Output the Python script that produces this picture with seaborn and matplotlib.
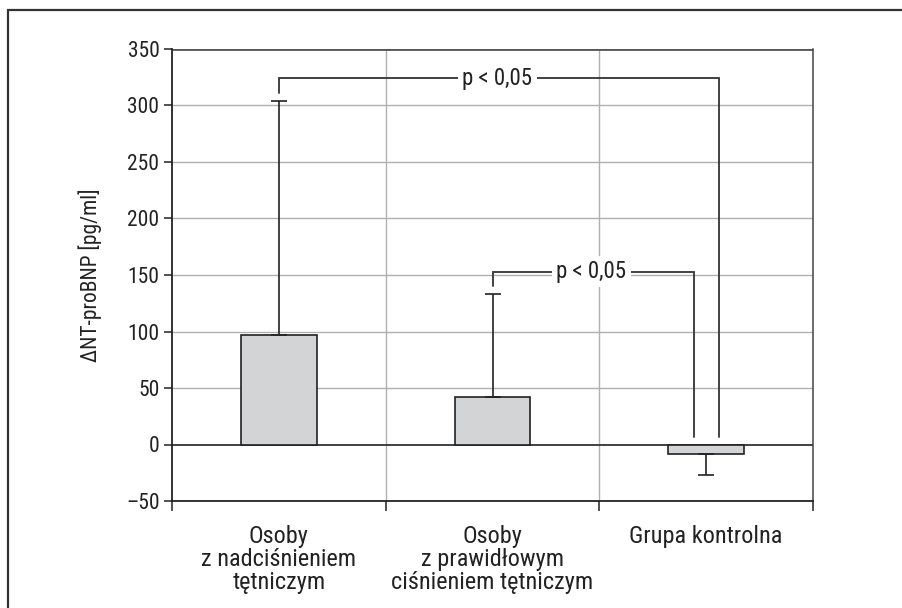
import matplotlib
matplotlib.use("Agg")
import matplotlib.pyplot as plt
import matplotlib.patches as mpatches
import seaborn as sns
import pandas as pd

categories = ["Osoby\nz nadciśnieniem\ntętniczym",
              "Osoby\nz prawidłowym\nciśnieniem tętniczym",
              "Grupa kontrolna"]
means = [97, 42, -8]
err_upper = [207, 91, 0]
err_lower = [0, 0, 19]
yticks = [-50, 0, 50, 100, 150, 200, 250, 300, 350]
p_label = "p < 0,05"

sns.set_theme(style="white")
plt.rcParams['font.family'] = ['Roboto Condensed', 'DejaVu Sans']
plt.rcParams['font.stretch'] = 'condensed'
plt.rcParams['axes.unicode_minus'] = True

fs = 15.5
fx = 17.5

fig = plt.figure(figsize=(9.02, 6.08), dpi=100)
ax = fig.add_axes([172/902, 1-501/608, (813-172)/902, (501-49)/608])

df = pd.DataFrame({"cat": categories, "val": means})
sns.barplot(data=df, x="cat", y="val", ax=ax, width=0.355, color="#d3d4d6",
            edgecolor="#222222", linewidth=1.2, saturation=1, errorbar=None, zorder=3)
ax.errorbar(range(len(means)), means, yerr=[err_lower, err_upper], fmt="none",
            ecolor="#222222", elinewidth=1.2, capsize=5.8, capthick=1.2, zorder=4)

ax.set_xlim(-0.5, 2.5)
ax.set_ylim(-50, 350)
ax.set_yticks(yticks)
ax.set_yticklabels([("\u2013" + str(-t)) if t < 0 else str(t) for t in yticks])
ax.set_xticks([0, 1, 2])
ax.set_xticklabels(categories, linespacing=1.0)
ax.set_xticks([-0.5, 0.5, 1.5, 2.5], minor=True)
ax.tick_params(axis="x", which="major", length=0, pad=17, labelsize=fx, colors="#222222")
ax.tick_params(axis="x", which="minor", length=7, width=1.1, color="#222222", direction="out", bottom=True)
ax.tick_params(axis="y", length=6, width=1.1, color="#222222", direction="out", left=True,
               labelsize=fs, labelcolor="#222222", pad=3)
ax.set_xlabel("")
ax.set_ylabel("ΔNT-proBNP [pg/ml]", fontsize=fs, color="#222222", labelpad=17)

for t in yticks[2:-1]:
    ax.axhline(t, color="#b0b0b0", lw=1.0, zorder=1)
ax.axhline(0, color="#333333", lw=1.3, zorder=2)
ax.axhline(350, color="#555555", lw=2, zorder=2)
for xv in [0.5, 1.5]:
    ax.axvline(xv, color="#b0b0b0", lw=1.0, zorder=1)

for side in ["left", "bottom"]:
    ax.spines[side].set_color("#222222")
    ax.spines[side].set_linewidth(1.3)
ax.spines["right"].set_color("#444444")
ax.spines["right"].set_linewidth(1.1)
ax.spines["top"].set_visible(False)

lc = "#333333"
lw = 1.3
off = 0.058
# top bracket
ax.plot([0, 0, 2 + off, 2 + off], [311, 324, 324, 6.7], color=lc, lw=lw, zorder=5, solid_joinstyle="miter")
ax.text(1.023, 324, p_label, ha="center", va="center", fontsize=fs + 1, color="#222222", zorder=6,
        bbox=dict(facecolor="white", edgecolor="none", pad=3))
# lower bracket
ax.plot([1, 1, 2 - off, 2 - off], [140, 153, 153, 6.7], color=lc, lw=lw, zorder=5, solid_joinstyle="miter")
ax.text(1.463, 153, p_label, ha="center", va="center", fontsize=fs + 1, color="#222222", zorder=6,
        bbox=dict(facecolor="white", edgecolor="none", pad=3))

frame = mpatches.Rectangle((8/902, -0.2), 1.3, 1 - 9.5/608 + 0.2, transform=fig.transFigure,
                           fill=False, edgecolor="#333333", lw=1.6, clip_on=False)
fig.patches.append(frame)

fig.savefig("out.png", dpi=100)
